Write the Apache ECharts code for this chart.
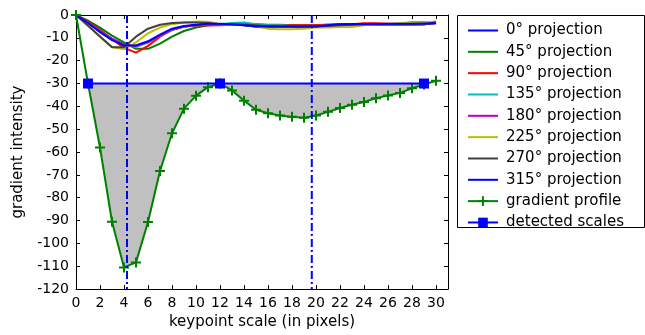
<!DOCTYPE html>
<html>
<head>
<meta charset="utf-8">
<script src="https://cdn.jsdelivr.net/npm/echarts@6/dist/echarts.min.js"></script>
<style>
  html, body { margin: 0; padding: 0; background: #fff; }
  #chart { width: 645px; height: 335px; }
</style>
</head>
<body>
<div id="chart"></div>
<script>
// keypoint scales (x) 0..30
const scales = [0,1,2,3,4,5,6,7,8,9,10,11,12,13,14,15,16,17,18,19,20,21,22,23,24,25,26,27,28,29,30];

// projection curves, one per direction
const proj0   = [0,-3.5,-7,-10.5,-13,-13.5,-12,-9,-6.5,-5,-4.5,-4,-4,-4,-4.5,-5,-5,-5,-5,-5,-5,-4.5,-4,-4,-4,-4,-4,-4,-4,-4,-3.5];
const proj45  = [0,-2.5,-5.5,-9,-12,-14.8,-14.8,-12.5,-9.5,-7,-5.5,-4.5,-4,-4,-3.6,-4,-4.3,-4.3,-4.5,-4.5,-4.5,-4.5,-4.3,-4.2,-4,-4,-4,-4,-4,-4,-3.5];
const proj90  = [0,-3,-6.5,-10.5,-14.4,-16.5,-13.5,-9.5,-6.5,-5,-4.6,-4.6,-4.5,-4.2,-4,-4.2,-4.5,-4.5,-4.5,-4.5,-4.5,-4.2,-4,-4,-3.6,-3.6,-3.8,-3.8,-3.2,-3.2,-3.5];
const proj135 = [0,-3.5,-7,-10.5,-13,-14,-12,-9,-6.5,-5,-4.5,-4,-4,-3.5,-3.3,-4,-4.5,-4.5,-4.8,-5,-5,-4.5,-4,-4,-4,-4,-4,-4,-4,-3.8,-3.5];
const proj180 = [0,-3.4,-7,-10.4,-13,-13.6,-11.8,-9,-6.4,-5,-4.5,-4,-4,-4,-4.4,-5,-5,-5,-5,-5,-5,-4.5,-4,-4,-4,-4,-4,-4,-4,-4,-3.5];
const proj225 = [0,-4.5,-9.5,-14,-15,-12,-8,-5.5,-4,-3.3,-2.9,-3,-4,-4.3,-4.3,-5,-6,-6.2,-6.2,-6,-5.5,-5.5,-5.3,-5.3,-4.5,-4,-4,-3.5,-3.3,-3.3,-2.8];
const proj270 = [0,-4.7,-9.4,-14.1,-14.1,-9.5,-6,-4.3,-3.5,-3.3,-3.3,-3.5,-4,-4.2,-4.2,-4.5,-4.8,-5,-5,-5,-5,-4.8,-4.5,-4.3,-4.2,-4.2,-4.2,-4.2,-4.2,-4,-3.2];
const proj315 = [0,-3.5,-7.5,-11,-13.3,-13.3,-11.5,-8.6,-6,-4.8,-4.3,-3.8,-3.8,-4,-4.5,-5,-5,-5,-5,-5,-5,-4.5,-4,-3.9,-3.9,-3.9,-3.8,-3.8,-3.8,-3.7,-3.6];

// summed gradient profile
const profile = [0,-30,-58,-90.5,-110.5,-108.3,-90.6,-68.3,-51.8,-41,-35.3,-31.6,-30,-33,-37.5,-41.5,-43,-44,-44.6,-45,-44,-42.4,-40.7,-39.3,-38.1,-36.4,-35.2,-34.1,-32.1,-30.4,-28.8];

// detected scales and threshold level
const detectedX = [1, 12, 29];
const detectedY = [-30, -30, -30];
// dash-dot vertical markers
const markerX = [4.25, 19.65];

const xTicks = { min: 0, max: 31, interval: 2 };
const yTicks = { min: -120, max: 0, interval: 10 };

const FONT = "DejaVu Sans";
const plus = "path://M4,0h2v4h4v2h-4v4h-2v-4h-4v-2h4z";
const lineIcon = "path://M0,0h30v2h-30z";

const chart = echarts.init(document.getElementById("chart"));

const projections = [
  ["0° projection", proj0, "#0000ff"],
  ["45° projection", proj45, "#008000"],
  ["90° projection", proj90, "#ff0000"],
  ["135° projection", proj135, "#00bfbf"],
  ["180° projection", proj180, "#bf00bf"],
  ["225° projection", proj225, "#bfbf00"],
  ["270° projection", proj270, "#404040"],
  ["315° projection", proj315, "#0000ff"],
];

const lo = detectedX[0], hi = detectedX[detectedX.length - 1];
const fillData = scales.map((x, i) => [x, profile[i]]).filter((p) => p[0] >= lo && p[0] <= hi);

const series = [
  {
    name: "fill",
    type: "line",
    data: fillData,
    symbol: "none",
    lineStyle: { width: 0 },
    areaStyle: { color: "#c0c0c0", opacity: 1, origin: detectedY[0] },
    silent: true,
    z: 1,
  },
];

projections.forEach(([name, vals, color]) => {
  series.push({
    name,
    type: "line",
    data: scales.map((x, i) => [x, vals[i]]),
    symbol: "none",
    lineStyle: { color, width: 2 },
    itemStyle: { color },
    z: 2,
  });
});

series.push({
  name: "gradient profile",
  type: "line",
  data: scales.map((x, i) => [x, profile[i]]),
  symbol: plus,
  symbolSize: 10,
  lineStyle: { color: "#008000", width: 2 },
  itemStyle: { color: "#008000" },
  z: 3,
});

markerX.forEach((x, k) => {
  series.push({
    name: "marker" + k,
    type: "line",
    data: [[x, yTicks.max], [x, yTicks.min]],
    symbol: "none",
    lineStyle: { color: "#0000ff", width: 2, type: [8, 3, 2, 3] },
    silent: true,
    z: 4,
  });
});

series.push({
  name: "detected scales",
  type: "line",
  data: detectedX.map((x, i) => [x, detectedY[i]]),
  symbol: "rect",
  symbolSize: 10,
  lineStyle: { color: "#0000ff", width: 2 },
  itemStyle: { color: "#0000ff" },
  z: 5,
});

const axisLine = { show: true, onZero: false, lineStyle: { color: "#000", width: 1 } };
const axisTick = { show: true, inside: true, length: 4, lineStyle: { color: "#000" } };

const legendData = projections
  .map((p) => ({ name: p[0], icon: lineIcon }))
  .concat([{ name: "gradient profile" }, { name: "detected scales" }]);

const option = {
  animation: false,
  textStyle: { fontFamily: FONT },
  grid: { left: 76, top: 15, right: 197, bottom: 42, containLabel: false },
  xAxis: [
    {
      type: "value",
      ...xTicks,
      position: "bottom",
      name: "keypoint scale (in pixels)",
      nameLocation: "middle",
      nameGap: 25,
      nameTextStyle: { color: "#000", fontSize: 15, fontFamily: FONT },
      axisLine,
      axisTick,
      splitLine: { show: false },
      axisLabel: { color: "#000", fontSize: 14, fontFamily: FONT, margin: 7, showMaxLabel: false },
    },
    {
      type: "value",
      ...xTicks,
      position: "top",
      axisLine,
      axisTick,
      splitLine: { show: false },
      axisLabel: { show: false },
    },
  ],
  yAxis: [
    {
      type: "value",
      ...yTicks,
      position: "left",
      name: "gradient intensity",
      nameLocation: "middle",
      nameGap: 50,
      nameTextStyle: { color: "#000", fontSize: 15, fontFamily: FONT },
      axisLine,
      axisTick,
      splitLine: { show: false },
      axisLabel: { color: "#000", fontSize: 14, fontFamily: FONT, margin: 7 },
    },
    {
      type: "value",
      ...yTicks,
      position: "right",
      axisLine,
      axisTick,
      splitLine: { show: false },
      axisLabel: { show: false },
    },
  ],
  legend: {
    data: legendData,
    orient: "vertical",
    left: 467,
    top: 23,
    padding: 0,
    itemWidth: 30,
    itemHeight: 12,
    itemGap: 6.33,
    selectedMode: false,
    textStyle: { color: "#000", fontSize: 15, fontFamily: FONT, padding: [0, 0, 0, 3] },
  },
  graphic: [
    {
      type: "rect",
      left: 457,
      top: 15,
      z: -1,
      shape: { width: 187, height: 212 },
      style: { fill: "#fff", stroke: "#000", lineWidth: 1 },
    },
  ],
  series,
};

chart.setOption(option);
</script>
</body>
</html>
